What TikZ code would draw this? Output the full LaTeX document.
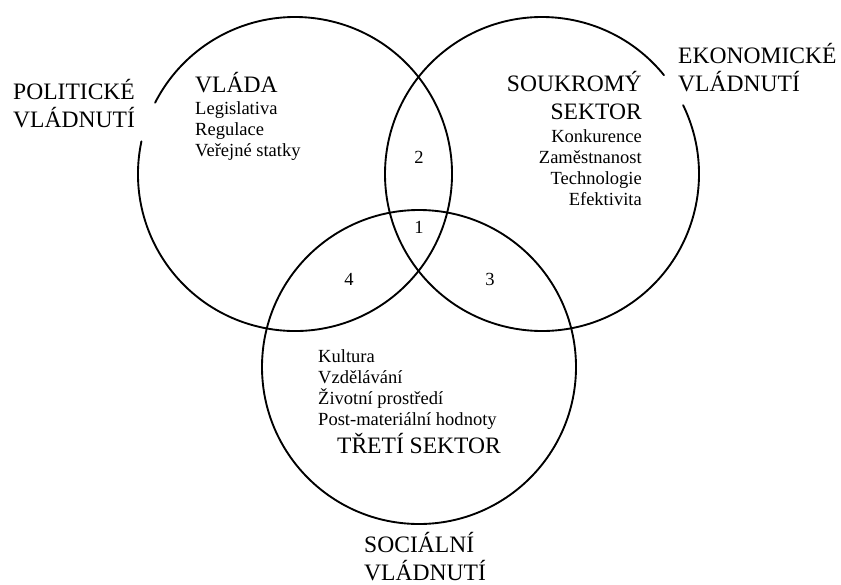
\documentclass[tikz,border=0pt]{standalone}
\usepackage{fontspec}
\setmainfont{Liberation Serif}
\newcommand{\bigtxt}{\fontsize{20.1}{23.6}\selectfont}
\newcommand{\smalltxt}{\fontsize{15.8}{17.9}\selectfont}

\begin{document}
\begin{tikzpicture}[x=.03cm,y=-.03cm,line cap=round,line join=round,
    ring/.style={line width=1.6pt},
    bigl/.style={inner sep=0pt,font=\bigtxt,align=left},
    bigr/.style={inner sep=0pt,font=\bigtxt,align=right},
    smalll/.style={inner sep=0pt,font=\smalltxt,align=left},
    smallr/.style={inner sep=0pt,font=\smalltxt,align=right},
    num/.style={inner sep=0pt,font=\smalltxt}]
    \useasboundingbox (0,0) rectangle (841,584);
    \coordinate (gov) at (295,174);
    \coordinate (priv) at (542,174);
    \coordinate (third) at (419,367);
    % circles (gaps where the outer labels sit)
    \draw[ring] (gov) ++(-168:157) arc[start angle=-168,end angle=-513,radius=157];
    \draw[ring] (priv) ++(-39:157) arc[start angle=-39,end angle=-386,radius=157];
    \draw[ring] (third) circle[radius=157];
    % outer labels (base = last line)
    \node[bigl,anchor=base west] (polit) at (13,127) {POLITICKÉ\\VLÁDNUTÍ};
    \node[bigl,anchor=base west] (ekon) at (678,91) {EKONOMICKÉ\\VLÁDNUTÍ};
    \node[bigl,anchor=base west] (soc) at (364,580) {SOCIÁLNÍ\\VLÁDNUTÍ};
    % government
    \node[bigl,anchor=base west] (vlada) at (195,92) {VLÁDA};
    \node[smalll,anchor=base west] (vladalist) at (195,156)
      {Legislativa\\Regulace\\Veřejné statky};
    % private sector
    \node[bigr,anchor=base east] (souk) at (642,119) {SOUKROMÝ\\SEKTOR};
    \node[smallr,anchor=base east] (souklist) at (642,205)
      {Konkurence\\Zaměstnanost\\Technologie\\Efektivita};
    % third sector
    \node[smalll,anchor=base west] (tretilist) at (318,425)
      {Kultura\\Vzdělávání\\Životní prostředí\\Post-materiální hodnoty};
    \node[bigl,anchor=base] (treti) at (419,453) {TŘETÍ SEKTOR};
    % overlaps
    \node[num,anchor=base] (n1) at (419,233) {1};
    \node[num,anchor=base] (n2) at (419,163) {2};
    \node[num,anchor=base] (n3) at (490,285) {3};
    \node[num,anchor=base] (n4) at (349,285) {4};
  \end{tikzpicture}
\end{document}
